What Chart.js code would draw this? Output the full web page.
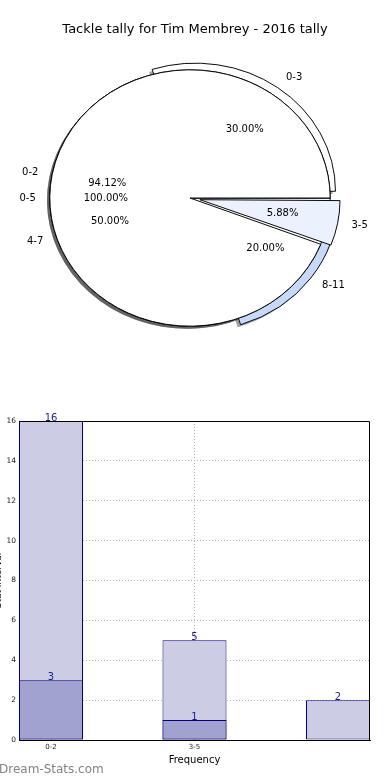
<!DOCTYPE html>
<html><head><meta charset="utf-8">
<script src="https://cdn.jsdelivr.net/npm/chart.js@4/dist/chart.umd.min.js"></script>
<style>
html,body{margin:0;padding:0;background:#fff;width:390px;height:780px;overflow:hidden}
#p{position:absolute;left:0;top:0;width:390px;height:400px}
#b{position:absolute;left:0;top:400px;width:390px;height:380px}
</style>
</head><body>
<div id="p"><canvas id="pie"></canvas></div>
<div id="b"><canvas id="bar"></canvas></div>
<script>
// ---- data ----
const chartTitle = 'Tackle tally for Tim Membrey - 2016 tally';
const pieALabels = ['0-2', '3-5'];
const pieAValues = [94.12, 5.88];
const pieBLabels = ['0-3', '4-7', '8-11'];
const pieBValues = [30, 50, 20];
const pieCLabels = ['0-5'];
const pieCValues = [100];

const barCategories = ['0-2', '3-5', '6-8'];
const barTotals = [16, 5, 2];
const barSubset = [3, 1, 0];
const xTickLabels = ['0-2', '3-5'];
const yTickStep = 2;
const yMax = 16;

// ---- styles ----
const FONT = 'DejaVu Sans';
const SY = 128 / 140;            // vertical squash of the pie (non-equal aspect)
const OFFSET_DIV = 4;            // Chart.js arc translates by offset/4

function pieDataset(labels, values, colors, explodePx) {
  const r = a => a.slice().reverse();   // reverse -> counter-clockwise from 3 o'clock
  return {
    data: r(values),
    sliceLabels: r(labels),
    backgroundColor: r(colors),
    offset: r(explodePx).map(v => v * OFFSET_DIV),
    explode: r(explodePx),
    borderColor: '#000',
    borderWidth: 1,
    borderAlign: 'center'
  };
}

function shade(hex) {
  const n = parseInt(hex.slice(1), 16);
  const c = [(n >> 16) & 255, (n >> 8) & 255, n & 255].map(v => Math.round(v * 0.3));
  return `rgba(${c[0]},${c[1]},${c[2]},0.5)`;
}

const piePlugin = {
  id: 'mplPie',
  afterDatasetsUpdate(chart) {
    const ca = chart.chartArea;
    const R = Math.min(ca.right - ca.left, ca.bottom - ca.top) / 2;
    chart.data.datasets.forEach((ds, i) => {
      chart.getDatasetMeta(i).data.forEach((el, j) => {
        const off = ds.explode[j] || 0;
        const circ = el.endAngle - el.startAngle;
        const fix = 1 - Math.sin(Math.min(Math.PI, circ));
        el.innerRadius = 0;
        el.outerRadius = R - off * fix;
        el.$R = R;
      });
    });
  },
  beforeDatasetsDraw(chart) {
    const ctx = chart.ctx, ca = chart.chartArea;
    const cy = (ca.top + ca.bottom) / 2;
    ctx.save();
    ctx.translate(0, cy); ctx.scale(1, SY); ctx.translate(0, -cy);
    // shadows (drawn below every wedge)
    chart.data.datasets.forEach((ds, i) => {
      chart.getDatasetMeta(i).data.forEach((el, j) => {
        const R = el.$R, off = ds.explode[j] || 0;
        const mid = (el.startAngle + el.endAngle) / 2;
        const x = el.x + Math.cos(mid) * off - 0.02 * R;
        const y = el.y + Math.sin(mid) * off + 0.02 * R;
        ctx.beginPath();
        ctx.moveTo(x, y);
        ctx.arc(x, y, R, el.startAngle, el.endAngle);
        ctx.closePath();
        ctx.fillStyle = shade(ds.backgroundColor[j]);
        ctx.fill();
      });
    });
  },
  afterDatasetsDraw(chart) {
    const ctx = chart.ctx;
    ctx.restore();
    ctx.save();
    ctx.font = `10px "${FONT}"`;
    ctx.fillStyle = '#000';
    ctx.textBaseline = 'middle';
    chart.data.datasets.forEach((ds, i) => {
      const sum = ds.data.reduce((a, b) => a + b, 0);
      chart.getDatasetMeta(i).data.forEach((el, j) => {
        const R = el.$R, off = ds.explode[j] || 0;
        const mid = (el.startAngle + el.endAngle) / 2;
        const c = Math.cos(mid), s = Math.sin(mid);
        const lx = el.x + c * (1.1 * R + off), ly = el.y + s * (1.1 * R + off) * SY;
        ctx.textAlign = c > 0 ? 'left' : 'right';
        ctx.fillText(ds.sliceLabels[j], lx, ly);
        const px = el.x + c * (0.6 * R + off), py = el.y + s * (0.6 * R + off) * SY;
        ctx.textAlign = 'center';
        ctx.fillText((ds.data[j] / sum * 100).toFixed(2) + '%', px, py);
      });
    });
    // figure title
    ctx.font = `13px "${FONT}"`;
    ctx.textAlign = 'center';
    ctx.fillText(chartTitle, chart.width / 2, 30);
    ctx.restore();
  }
};

new Chart(document.getElementById('pie'), {
  type: 'pie',
  data: {
    datasets: [
      pieDataset(pieALabels, pieAValues, ['#ffffff', '#ebf1fd'], [0, 10]),
      pieDataset(pieCLabels, pieCValues, ['#ffffff'], [0]),
      pieDataset(pieBLabels, pieBValues, ['#ffffff', '#ffffff', '#c6d9f9'], [9, 0, 9])
    ]
  },
  options: {
    responsive: true, maintainAspectRatio: false, animation: false,
    rotation: 90,
    layout: { padding: { left: 0, right: 10, top: 57.8, bottom: 61.8 } },
    plugins: { legend: { display: false }, tooltip: { enabled: false }, title: { display: false } }
  },
  plugins: [piePlugin]
});

// ---- bar chart ----
const NAVY = '#000080';
const barFrame = {
  id: 'frame',
  afterDraw(chart) {
    const { ctx, chartArea: a } = chart;
    ctx.save();
    ctx.strokeStyle = '#000'; ctx.lineWidth = 1;
    ctx.beginPath();
    ctx.moveTo(Math.round(a.left) + 0.5, Math.round(a.top) + 0.5);
    ctx.lineTo(Math.round(a.right) - 0.5, Math.round(a.top) + 0.5);
    ctx.lineTo(Math.round(a.right) - 0.5, Math.round(a.bottom));
    ctx.stroke();
    // value labels
    ctx.font = `10px "${FONT}"`;
    ctx.fillStyle = '#1a1a8a';
    ctx.textAlign = 'center'; ctx.textBaseline = 'bottom';
    chart.data.datasets.forEach((ds, i) => {
      chart.getDatasetMeta(i).data.forEach((el, j) => {
        const v = ds.data[j].y;
        if (!v) return;
        ctx.fillText(String(v), el.x, el.y + 2);
      });
    });
    // watermark
    ctx.font = `12px "${FONT}"`;
    ctx.fillStyle = '#828282';
    ctx.textAlign = 'left'; ctx.textBaseline = 'middle';
    ctx.fillText('Dream-Stats.com', -1, 370);
    ctx.restore();
  }
};

const gridOpts = { color: '#b2b2b2', lineWidth: 1, drawTicks: false, offset: false };
const borderOpts = { display: true, color: '#000', width: 1, dash: [1, 2] };

new Chart(document.getElementById('bar'), {
  type: 'bar',
  data: {
    datasets: [
      { label: 'subset', data: barCategories.map((c, i) => ({ x: i, y: barSubset[i] })),
        backgroundColor: '#a2a2d0', borderColor: NAVY, borderWidth: 1, borderSkipped: false,
        grouped: false, order: 1, barPercentage: 0.446, categoryPercentage: 1 },
      { label: 'total', data: barCategories.map((c, i) => ({ x: i, y: barTotals[i] })),
        backgroundColor: '#ccccE4', borderColor: NAVY, borderWidth: 1, borderSkipped: false,
        grouped: false, order: 2, barPercentage: 0.446, categoryPercentage: 1 }
    ]
  },
  options: {
    responsive: true, maintainAspectRatio: false, animation: false,
    layout: { padding: { top: 21, right: 20, left: 0, bottom: 0 } },
    plugins: { legend: { display: false }, tooltip: { enabled: false } },
    scales: {
      x: {
        type: 'linear', min: -0.223, max: barCategories.length - 1 + 0.223, offset: false, z: 1,
        grid: gridOpts, border: borderOpts,
        afterBuildTicks(s) { s.ticks = xTickLabels.map((_, i) => ({ value: i })); },
        ticks: { callback: v => xTickLabels[v] ?? '', font: { family: FONT, size: 7 }, color: '#222',
          padding: 3, maxRotation: 0, autoSkip: false },
        title: { display: true, text: 'Frequency', color: '#000', font: { family: FONT, size: 10 },
          padding: { top: 0, bottom: 14 } },
        afterFit(s) { s.height = 40; }
      },
      y: {
        min: 0, max: yMax, z: 1,
        grid: gridOpts, border: borderOpts,
        ticks: { stepSize: yTickStep, font: { family: FONT, size: 7.5 }, color: '#222', padding: 3 },
        title: { display: true, text: 'Stat Interval', color: '#000', font: { family: FONT, size: 9 },
          padding: { top: -7, bottom: 0 } },
        afterFit(s) { s.width = 19; }
      }
    }
  },
  plugins: [barFrame]
});
</script>
</body></html>
